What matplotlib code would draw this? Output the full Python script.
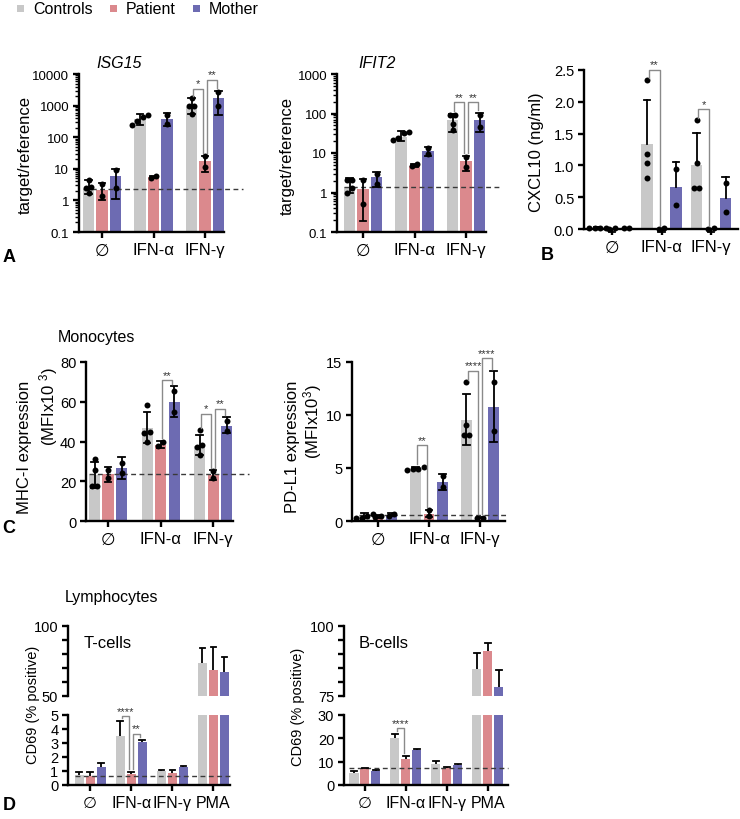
import numpy as np
import matplotlib
matplotlib.use('Agg')
import matplotlib.pyplot as plt
from matplotlib.ticker import LogLocator, NullFormatter, FuncFormatter
from matplotlib.patches import Rectangle

plt.rcParams['font.family'] = ['Liberation Sans', 'DejaVu Sans']
plt.rcParams['mathtext.fontset'] = 'custom'
plt.rcParams['mathtext.rm'] = 'Liberation Sans'
plt.rcParams['mathtext.it'] = 'Liberation Sans:italic'
plt.rcParams['mathtext.bf'] = 'Liberation Sans:bold'

# ------------------------------------------------------------------ data
series = ['Controls', 'Patient', 'Mother']
colors = ['#c8c8c8', '#db898d', '#6d6bb2']
cond3 = ['\u2205', 'IFN-\u03b1', 'IFN-\u03b3']
cond4 = ['\u2205', 'IFN-\u03b1', 'IFN-\u03b3', 'PMA']

# A: ISG15 (log)
isg15_mean = [[2.2, 370, 900], [2.2, 5.6, 18], [6.0, 380, 1800]]
isg15_lo = [[1.6, 240, 540], [1.0, 5.2, 8.2], [1.07, 230, 500]]
isg15_hi = [[4.5, 540, 1700], [3.6, 6.1, 26], [10, 600, 2950]]
isg15_pts = [[[4.3, 2.6, 2.5, 1.7], [520, 450, 330, 250], [1700, 1000, 1000, 550]],
             [[3.3, 1.4], [5.3, 6.0], [26, 11]],
             [[9.0, 2.4], [520, 270], [2600, 950]]]
isg15_base = 2.33
isg15_sig = [(2, 0, 1, 3400, '*'), (2, 1, 2, 6600, '**')]

# A: IFIT2 (log)
ifit2_mean = [[1.4, 26, 68], [1.2, 4.8, 6.2], [2.4, 11.2, 68]]
ifit2_lo = [[1.0, 20, 35], [0.19, 4.5, 3.5], [1.35, 8.5, 35]]
ifit2_hi = [[2.3, 36, 100], [2.2, 5.4, 8.5], [3.3, 14.5, 105]]
ifit2_pts = [[[2.1, 2.1, 1.3, 1.0], [35, 32, 24, 21], [92, 90, 55, 38]],
             [[2.1, 0.5], [4.6, 5.2], [8.0, 4.3]],
             [[3.0, 1.6], [13.5, 9.4], [92, 45]]]
ifit2_base = 1.34
ifit2_sig = [(2, 0, 1, 194, '**'), (2, 1, 2, 194, '**')]

# B: CXCL10
cxcl_mean = [[0.02, 1.33, 1.0], [0.0, 0.0, 0.0], [0.01, 0.655, 0.49]]
cxcl_lo = [[0.02, 1.33, 1.0], [-0.04, -0.04, -0.04], [0.01, 0.655, 0.49]]
cxcl_hi = [[0.03, 2.03, 1.51], [0.0, 0.0, 0.0], [0.015, 1.06, 0.82]]
cxcl_pts = [[[0.01, 0.01, 0.02, 0.02], [2.34, 1.18, 1.03, 0.80], [1.71, 1.03, 0.64, 0.64]],
            [[0.0, 0.01], [0.0, 0.01], [0.0, 0.01]],
            [[0.01, 0.01], [0.94, 0.38], [0.73, 0.26]]]
cxcl_sig = [(1, 0, 1, 2.5, '**'), (2, 0, 1, 1.88, '*')]

# C: MHC-I
mhc_mean = [[23, 47, 37.5], [23.5, 38, 23], [26.7, 60, 48]]
mhc_lo = [[16.8, 39.4, 33.4], [19.6, 36.5, 20.5], [21, 52.3, 44.5]]
mhc_hi = [[29.7, 54.9, 43.1], [27.2, 40.5, 25.5], [32, 67.8, 52.3]]
mhc_pts = [[[31, 25.5, 17.5, 17.5], [58.6, 45, 44.5, 39.8], [45.6, 38, 37, 33.4]],
           [[25.5, 21.5], [39.5, 37.5], [25, 21.5]],
           [[29, 24], [65.5, 55], [50.5, 45.5]]]
mhc_base = 23.7
mhc_sig = [(1, 1, 2, 70.8, '**'), (2, 0, 1, 54, '*'), (2, 1, 2, 56.5, '**')]

# C: PD-L1
pdl1_mean = [[0.45, 4.95, 9.55], [0.4, 0.7, 0.3], [0.6, 3.68, 10.8]]
pdl1_lo = [[0.25, 4.8, 7.2], [0.3, 0.35, 0.25], [0.45, 2.9, 7.5]]
pdl1_hi = [[0.75, 5.1, 12.0], [0.55, 1.05, 0.38], [0.8, 4.4, 14.15]]
pdl1_pts = [[[0.7, 0.45, 0.3, 0.3], [5.05, 4.95, 4.9, 4.85], [13.1, 9.06, 8.1, 8.1]],
            [[0.35, 0.5], [1.0, 0.45], [0.3, 0.33]],
            [[0.5, 0.7], [4.2, 3.2], [13.15, 8.5]]]
pdl1_base = 0.53
pdl1_sig = [(1, 0, 1, 7.14, '**'), (2, 0, 1, 14.15, '****'), (2, 1, 2, 15.35, '****')]

# D: CD69 T-cells
tcell_mean = [[0.7, 3.5, 1.0, 73.6], [0.65, 0.8, 0.85, 68.9], [1.3, 3.1, 1.3, 67]]
tcell_hi = [[0.9, 4.6, 1.1, 84], [0.95, 0.95, 1.1, 84.7], [1.55, 3.2, 1.38, 78]]
tcell_base = 0.67
tcell_sig = [(1, 0, 1, 4.9, '****'), (1, 1, 2, 3.64, '**')]

# D: CD69 B-cells
bcell_mean = [[5.3, 20, 9.2, 84.6], [7.2, 11.3, 7.4, 91.0], [6.0, 15, 8.5, 78.1]]
bcell_hi = [[5.9, 21.7, 10.3, 90.2], [7.4, 12.3, 7.6, 94.0], [6.5, 15.6, 9.2, 84.3]]
bcell_base = 7.1
bcell_sig = [(1, 0, 1, 24.3, '****')]

# ------------------------------------------------------------------ helpers
W, H = 740, 820
fig = plt.figure(figsize=(W / 100, H / 100), dpi=100)

ov = fig.add_axes([0, 0, 1, 1])
ov.set_xlim(0, W)
ov.set_ylim(H, 0)
ov.axis('off')


def px_axes(l, t, r, b):
    return fig.add_axes([l / W, 1 - b / H, (r - l) / W, (b - t) / H])


def x_px(ax, px):
    """convert a pixel length to x data units"""
    T = ax.transData
    return px / (T.transform((1, 1))[0] - T.transform((0, 1))[0])


def y_up(ax, v, px):
    T = ax.transData
    d = T.transform((0, v))
    return T.inverted().transform((d[0], d[1] + px))[1]


def style(ax, labels, xfs, yfs):
    for s in ['top', 'right']:
        ax.spines[s].set_visible(False)
    for s in ['left', 'bottom']:
        ax.spines[s].set_linewidth(1.7)
    ax.tick_params(axis='both', which='major', width=1.7, length=4.5, color='black',
                   pad=2.5)
    ax.tick_params(axis='x', labelsize=xfs, pad=3)
    ax.tick_params(axis='y', labelsize=yfs)
    ax.set_xticks(range(len(labels)), labels)
    ax.patch.set_alpha(0)


def swarm(ax, xc, vals, step_px=5.5, thr_px=5.0):
    T = ax.transData
    disp = np.array([T.transform((xc, v))[1] for v in vals])
    order = np.argsort(disp)
    clusters = []
    for i in order:
        if clusters and disp[i] - disp[clusters[-1][-1]] < thr_px:
            clusters[-1].append(i)
        else:
            clusters.append([i])
    xs = np.zeros(len(vals))
    for cl in clusters:
        k = len(cl)
        for j, i in enumerate(cl):
            xs[i] = xc + x_px(ax, (j - (k - 1) / 2) * step_px)
    return xs


def draw_err(ax, x, lo, hi, cap_lo, cap_px=3.2, lw=1.3, clip=True):
    hw = x_px(ax, cap_px)
    ax.plot([x, x], [lo, hi], color='black', lw=lw, zorder=3, clip_on=clip,
            solid_capstyle='butt')
    ax.plot([x - hw, x + hw], [hi, hi], color='black', lw=lw, zorder=3, clip_on=clip)
    if cap_lo:
        ax.plot([x - hw, x + hw], [lo, lo], color='black', lw=lw, zorder=3, clip_on=clip)


def draw_groups(ax, means, lo, hi, pts, off, bw, floor=0.0, two_sided=True,
                cap_px=3.2, clip=True):
    n = len(means[0])
    for s in range(3):
        xs = np.arange(n) + (s - 1) * off
        ax.bar(xs, np.array(means[s]) - floor, bottom=floor, width=bw,
               color=colors[s], zorder=1, linewidth=0)
        for c in range(n):
            l = lo[s][c] if lo is not None else means[s][c]
            draw_err(ax, xs[c], l, hi[s][c], two_sided, cap_px=cap_px, clip=clip)
            if pts is not None:
                p = pts[s][c]
                px = swarm(ax, xs[c], p)
                ax.plot(px, p, 'o', color='black', ms=4.3, zorder=4, clip_on=False,
                        markeredgewidth=0)


def baseline(ax, y, x0, x1):
    ax.plot([x0, x1], [y, y], color='#3a3a3a', lw=1.0, ls=(0, (3.5, 2.5)),
            zorder=2, clip_on=False)


def brackets(ax, sig, hi, pts, off, gap_px=2.5, dpx=1.8, fs=8):
    for (c, a, b, top, lab) in sig:
        xa = c + (a - 1) * off + x_px(ax, dpx)
        xb = c + (b - 1) * off - x_px(ax, dpx)

        def data_top(s):
            v = hi[s][c]
            if pts is not None:
                v = max(v, max(pts[s][c]))
            return y_up(ax, v, gap_px)
        ya, yb = data_top(a), data_top(b)
        ax.plot([xa, xa, xb, xb], [ya, top, top, yb], color='#8a8a8a', lw=1.0,
                zorder=5, clip_on=False)
        ax.text((xa + xb) / 2, y_up(ax, top, 0.5), lab, ha='center', va='bottom',
                fontsize=fs, color='#333333', zorder=6)


# ------------------------------------------------------------------ A: ISG15
def log_axis(ax, lo_, hi_):
    ax.set_yscale('log')
    ax.set_ylim(lo_, hi_)
    ax.yaxis.set_major_locator(LogLocator(base=10, numticks=10))
    ax.yaxis.set_minor_locator(LogLocator(base=10, subs=np.arange(2, 10), numticks=20))
    ax.yaxis.set_minor_formatter(NullFormatter())
    ax.yaxis.set_major_formatter(FuncFormatter(lambda v, p: f'{v:g}'))
    ax.tick_params(axis='y', which='minor', width=1.0, length=2.8)


off_a, bw_a = 0.262, 0.215
ax1 = px_axes(79, 75, 224, 233)
ax1.set_xlim(-0.447, 2.369)
log_axis(ax1, 0.1, 10000)
style(ax1, cond3, 12, 9.5)
draw_groups(ax1, isg15_mean, isg15_lo, isg15_hi, isg15_pts, off_a, bw_a, floor=0.1)
baseline(ax1, isg15_base, -off_a - bw_a / 2, 2.74)
brackets(ax1, isg15_sig, isg15_hi, isg15_pts, off_a)

ax2 = px_axes(337, 75, 486, 233)
ax2.set_xlim(-0.505, 2.388)
log_axis(ax2, 0.1, 1000)
style(ax2, cond3, 12, 9.5)
draw_groups(ax2, ifit2_mean, ifit2_lo, ifit2_hi, ifit2_pts, off_a, bw_a, floor=0.1)
baseline(ax2, ifit2_base, -off_a - bw_a / 2, 2.66)
brackets(ax2, ifit2_sig, ifit2_hi, ifit2_pts, off_a)

# ------------------------------------------------------------------ B: CXCL10
off_b, bw_b = 0.293, 0.23
ax3 = px_axes(584, 71, 738, 230)
ax3.set_xlim(-0.566, 2.545)
ax3.set_ylim(0, 2.5)
ax3.set_yticks([0, 0.5, 1.0, 1.5, 2.0, 2.5])
ax3.yaxis.set_major_formatter(FuncFormatter(lambda v, p: f'{v:.1f}'))
style(ax3, cond3, 12, 10.5)
n = 3
for s in range(3):
    xs = np.arange(n) + (s - 1) * off_b
    ax3.bar(xs, cxcl_mean[s], width=bw_b, color=colors[s], zorder=1, linewidth=0)
    for c in range(n):
        lo_v, hi_v = cxcl_lo[s][c], cxcl_hi[s][c]
        hw = x_px(ax3, 3.2)
        if hi_v > cxcl_mean[s][c]:
            ax3.plot([xs[c], xs[c]], [cxcl_mean[s][c], hi_v], color='black', lw=1.3, zorder=3)
            ax3.plot([xs[c] - hw, xs[c] + hw], [hi_v, hi_v], color='black', lw=1.3, zorder=3)
        if lo_v < 0:
            ax3.plot([xs[c], xs[c]], [cxcl_mean[s][c], lo_v], color='black', lw=1.3,
                     zorder=3, clip_on=False)
            ax3.plot([xs[c] - hw, xs[c] + hw], [lo_v, lo_v], color='black', lw=1.3,
                     zorder=3, clip_on=False)
        p = cxcl_pts[s][c]
        ax3.plot(swarm(ax3, xs[c], p), p, 'o', color='black', ms=4.3, zorder=4,
                 clip_on=False, markeredgewidth=0)
brackets(ax3, cxcl_sig, cxcl_hi, cxcl_pts, off_b)

# ------------------------------------------------------------------ C
off_c, bw_c = 0.257, 0.21
ax4 = px_axes(86, 363, 233, 522)
ax4.set_xlim(-0.419, 2.38)
ax4.set_ylim(0, 80)
ax4.set_yticks([0, 20, 40, 60, 80])
style(ax4, cond3, 12, 10.5)
draw_groups(ax4, mhc_mean, mhc_lo, mhc_hi, mhc_pts, off_c, bw_c)
baseline(ax4, mhc_base, -off_c - bw_c / 2, 2.69)
brackets(ax4, mhc_sig, mhc_hi, mhc_pts, off_c)

off_c2, bw_c2 = 0.265, 0.215
ax5 = px_axes(352, 363, 505, 522)
ax5.set_xlim(-0.51, 2.49)
ax5.set_ylim(0, 15)
ax5.set_yticks([0, 5, 10, 15])
style(ax5, cond3, 12, 10.5)
draw_groups(ax5, pdl1_mean, pdl1_lo, pdl1_hi, pdl1_pts, off_c2, bw_c2)
baseline(ax5, pdl1_base, -off_c2 - bw_c2 / 2, 2.53)
brackets(ax5, pdl1_sig, pdl1_hi, pdl1_pts, off_c2)

# ------------------------------------------------------------------ D
off_d, bw_d = 0.268, 0.22


def broken_panel(l, r, xlim, lo_lim, lo_ticks, up_lim, up_ticks, means, hi, base, sig):
    axu = px_axes(l, 627, r, 697)
    axl = px_axes(l, 716, r, 786)
    for ax in (axu, axl):
        ax.set_xlim(*xlim)
    axl.set_ylim(*lo_lim)
    axl.set_yticks(lo_ticks)
    style(axl, cond4, 11.5, 10.5)
    axu.set_ylim(*up_lim)
    axu.set_yticks(up_ticks, [f'{up_ticks[0]:g}'] + [''] * (len(up_ticks) - 2) +
                   [f'{up_ticks[-1]:g}'])
    style(axu, cond4, 11.5, 10.5)
    axu.spines['bottom'].set_visible(False)
    axu.tick_params(axis='x', bottom=False, labelbottom=False)
    draw_groups(axl, means, None, hi, None, off_d, bw_d, two_sided=False, cap_px=2.6)
    draw_groups(axu, means, None, hi, None, off_d, bw_d, two_sided=False, cap_px=2.6)
    baseline(axl, base, -off_d - bw_d / 2, xlim[1])
    brackets(axl, sig, hi, None, off_d, gap_px=3)
    return axu, axl


broken_panel(68, 230, (-0.537, 3.41), (0, 5), [0, 1, 2, 3, 4, 5], (50, 100),
             [50, 60, 70, 80, 90, 100], tcell_mean, tcell_hi, tcell_base, tcell_sig)
broken_panel(344, 508, (-0.512, 3.49), (0, 30), [0, 10, 20, 30], (75, 100),
             [75, 80, 85, 90, 95, 100], bcell_mean, bcell_hi, bcell_base, bcell_sig)

# ------------------------------------------------------------------ texts
# legend
for i, (lx, name) in enumerate(zip([17, 110, 193], series)):
    ov.add_patch(Rectangle((lx, 6), 7, 7, color=colors[i], lw=0))
    ov.text(lx + 16, 9.5, name, fontsize=11.5, va='center', ha='left')

ov.text(119, 64, 'ISG15', fontsize=11.5, style='italic', ha='center', va='center')
ov.text(377, 64, 'IFIT2', fontsize=11.5, style='italic', ha='center', va='center')

for (x, y, t) in [(25, 155, 'target/reference'), (287, 156, 'target/reference'),
                  (537, 152, 'CXCL10 (ng/ml)'), (25, 447, 'MHC-I expression'),
                  (49, 406, '(MFIx10 $^{3}$)'), (292, 447, 'PD-L1 expression'),
                  (313, 422, '(MFIx10$^{3}$)')]:
    ov.text(x, y, t, fontsize=12, rotation=90, ha='center', va='center')
for (x, y, t) in [(33, 705, 'CD69 (% positive)'), (298, 707, 'CD69 (% positive)')]:
    ov.text(x, y, t, fontsize=10.5, rotation=90, ha='center', va='center')

ov.text(96, 338, 'Monocytes', fontsize=11.5, ha='center', va='center')
ov.text(111, 598, 'Lymphocytes', fontsize=11.5, ha='center', va='center')
ov.text(108, 644, 'T-cells', fontsize=12, ha='center', va='center')
ov.text(384, 644, 'B-cells', fontsize=12, ha='center', va='center')

for (x, y, t) in [(9, 258, 'A'), (547, 255, 'B'), (9, 529, 'C'), (9, 806, 'D')]:
    ov.text(x, y, t, fontsize=13, fontweight='bold', ha='center', va='center')

fig.savefig('out.png', dpi=100)
